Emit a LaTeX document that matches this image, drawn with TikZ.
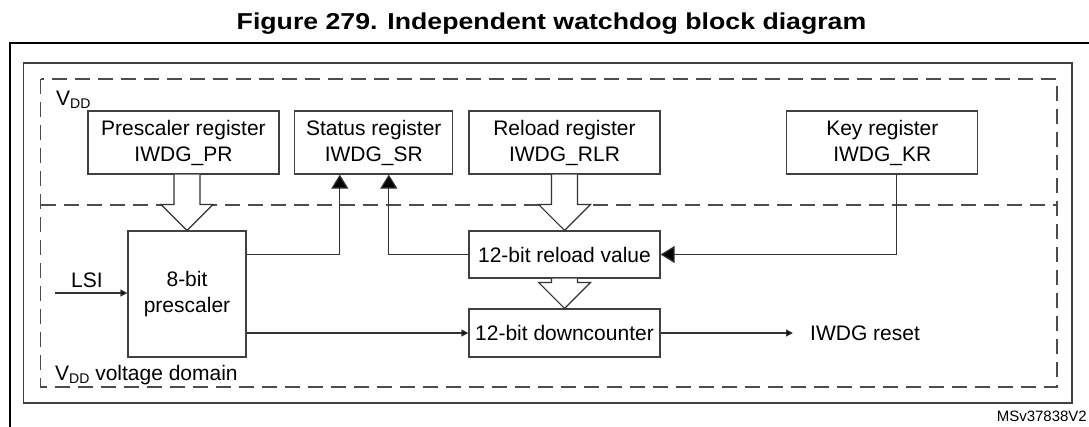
\documentclass[tikz,border=0pt]{standalone}
\usepackage{fontspec}
\usepackage{graphicx}
\setmainfont{Liberation Sans}
\usetikzlibrary{calc,arrows.meta}
\def\fatarrow(#1)(#2){\draw[fat] let \p1=(#1.south), \p2=(#2.north) in (\x2-13pt,\y1) -- (\x2-13pt,\y2+26pt) -- (\x2-26pt,\y2+26pt) -- (\x2,\y2) -- (\x2+26pt,\y2+26pt) -- (\x2+13pt,\y2+26pt) -- (\x2+13pt,\y1);}
\def\vdd{V\raisebox{-3pt}{\fontsize{14}{14}\selectfont DD}}

\begin{document}
\begin{tikzpicture}[x=1pt,y=-1pt,
	reg/.style={draw=black!75, line width=1.2pt, fill=white, inner sep=0pt, align=center, font=\fontsize{21}{26}\selectfont},
	txt/.style={inner sep=0pt, font=\fontsize{21}{26}\selectfont},
	wire/.style={draw=black!80, line width=1.2pt},
	bigtip/.style={wire, -{Stealth[inset=0pt, width=17pt, length=14pt, fill=black]}},
	smalltip/.style={wire, -{Stealth[inset=0pt, width=7pt, length=7pt, fill=black]}},
	fat/.style={draw=black!80, line width=1.2pt, fill=white},
	vddline/.style={draw=black!70, line width=1.2pt, dash pattern=on 15pt off 8pt}]
		%%%%% START %%%%%
		
		\useasboundingbox (0,0) rectangle (1089,426);
		
		\node[inner sep=0pt, font=\fontsize{23}{23}\selectfont\bfseries] (title) at (551.5,24) {\scalebox{1.16}[1]{Figure 279. Independent watchdog block diagram}};
		\draw[line width=2pt] (10,430) -- (10,42.7) -- (1092,42.7);
		\draw[line width=1.2pt, color=black!75] (23.3,63) rectangle (1072,403);
		
		\draw[vddline] (40.7,79) rectangle (1057,387);
		\draw[vddline] (40.7,205) -- (1057,205);
		\node[txt, anchor=base west] (vddtop) at (56,105) {\vdd};
		\node[txt, anchor=base west] (vddbot) at (55,380) {\vdd{} voltage domain};
		
		\node[reg, minimum width=191pt, minimum height=63pt] (pr) at (183.5,142.5) {Prescaler register\\IWDG\_PR};
		\node[reg, minimum width=158pt, minimum height=63pt] (sr) at (373.8,142.5) {Status register\\IWDG\_SR};
		\node[reg, minimum width=191pt, minimum height=63pt] (rlr) at (564.5,142.5) {Reload register\\IWDG\_RLR};
		\node[reg, minimum width=191pt, minimum height=63pt] (kr) at (882.3,142.5) {Key register\\IWDG\_KR};
		
		\node[reg, minimum width=118pt, minimum height=126pt] (psc) at (187,294) {8-bit\\prescaler};
		\node[reg, minimum width=191pt, minimum height=47pt] (rv) at (564.5,254.5) {12-bit reload value};
		\node[reg, minimum width=191pt, minimum height=48pt] (dc) at (564.5,333) {12-bit downcounter};
		
		\fatarrow(pr)(psc)
		\fatarrow(rlr)(rv)
		\fatarrow(rv)(dc)
		
		\coordinate (sr1) at ($(sr.south)+(-34,0)$);
		\coordinate (sr2) at ($(sr.south)+(15,0)$);
		\coordinate (kr1) at ($(kr.south)+(14,0)$);
		\draw[bigtip] (psc.east |- rv.west) -| (sr1);
		\draw[bigtip] (rv.west) -| (sr2);
		\draw[bigtip] (kr1) |- (rv.east);
		
		\node[txt] (lsi) at (87,280) {LSI};
		\coordinate (lsiin) at (55,293);
		\draw[smalltip] (lsiin) -- (lsiin -| psc.west);
		\draw[smalltip] (psc.east |- dc.west) -- (dc.west);
		
		\node[txt, anchor=west] (rst) at (810,333) {IWDG reset};
		\coordinate (rstin) at ($(rst.west)+(-17,0)$);
		\draw[smalltip] (dc.east) -- (rstin);
		
		\node[anchor=base east, inner sep=0pt, font=\fontsize{15}{15}\selectfont] (ref) at (1087,421.5) {MSv37838V2};
		
		%%%%% END %%%%%
	\end{tikzpicture}
\end{document}
